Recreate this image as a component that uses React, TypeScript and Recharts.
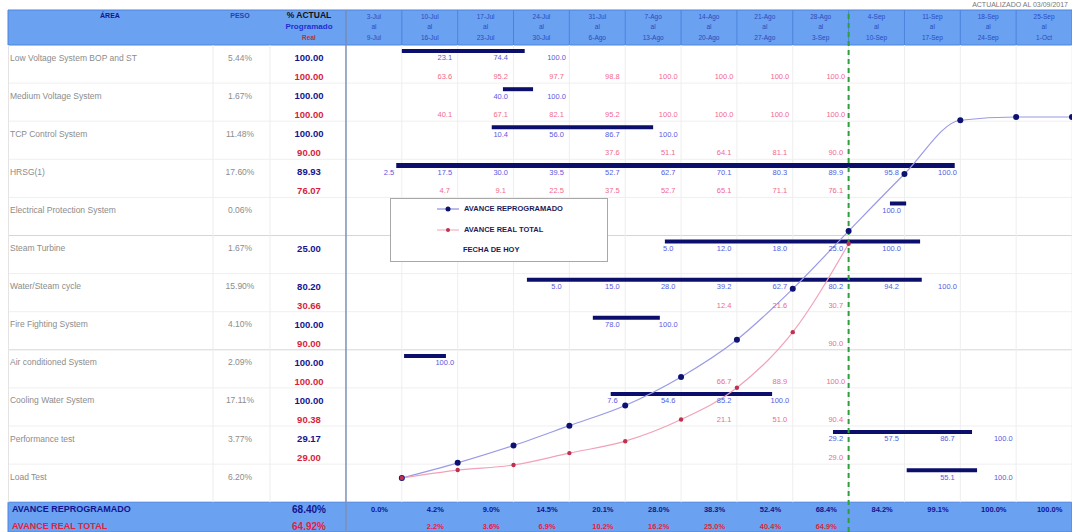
import React from 'react';
import {
  ComposedChart,
  Line,
  Scatter,
  XAxis,
  YAxis,
  ReferenceLine,
  ReferenceArea,
  Legend,
} from 'recharts';

// ---- data ----
const weekStart = ['3-Jul', '10-Jul', '17-Jul', '24-Jul', '31-Jul', '7-Ago', '14-Ago', '21-Ago', '28-Ago', '4-Sep', '11-Sep', '18-Sep', '25-Sep'];
const weekEnd = ['9-Jul', '16-Jul', '23-Jul', '30-Jul', '6-Ago', '13-Ago', '20-Ago', '27-Ago', '3-Sep', '10-Sep', '17-Sep', '24-Sep', '1-Oct'];

const areas = [
  'Low Voltage System BOP and ST',
  'Medium Voltage System',
  'TCP Control System',
  'HRSG(1)',
  'Electrical Protection System',
  'Steam Turbine',
  'Water/Steam cycle',
  'Fire Fighting System',
  'Air conditioned System',
  'Cooling Water System',
  'Performance test',
  'Load Test',
];
const peso = ['5.44%', '1.67%', '11.48%', '17.60%', '0.06%', '1.67%', '15.90%', '4.10%', '2.09%', '17.11%', '3.77%', '6.20%'];
const actualProg = ['100.00', '100.00', '100.00', '89.93', '', '25.00', '80.20', '100.00', '100.00', '100.00', '29.17', ''];
const actualReal = ['100.00', '100.00', '90.00', '76.07', '', '', '30.66', '90.00', '100.00', '90.38', '29.00', ''];

// gantt bars, in weeks from 3-Jul
const ganttStart = [1.0, 2.81, 2.61, 0.9, 9.74, 5.71, 3.24, 4.42, 1.04, 4.74, 8.72, 10.04];
const ganttEnd = [3.2, 3.35, 5.5, 10.9, 10.03, 10.28, 10.31, 5.62, 1.79, 7.63, 11.21, 11.3];

const N = null;
// programmed % per week, per area
const progCells: (number | null)[][] = [
  [N, 23.1, 74.4, 100, N, N, N, N, N, N, N, N, N],
  [N, N, 40.0, 100, N, N, N, N, N, N, N, N, N],
  [N, N, 10.4, 56.0, 86.7, 100, N, N, N, N, N, N, N],
  [2.5, 17.5, 30.0, 39.5, 52.7, 62.7, 70.1, 80.3, 89.9, 95.8, 100, N, N],
  [N, N, N, N, N, N, N, N, N, 100, N, N, N],
  [N, N, N, N, N, 5.0, 12.0, 18.0, 25.0, 100, N, N, N],
  [N, N, N, 5.0, 15.0, 28.0, 39.2, 62.7, 80.2, 94.2, 100, N, N],
  [N, N, N, N, 78.0, 100, N, N, N, N, N, N, N],
  [N, 100, N, N, N, N, N, N, N, N, N, N, N],
  [N, N, N, N, 7.6, 54.6, 85.2, 100, N, N, N, N, N],
  [N, N, N, N, N, N, N, N, 29.2, 57.5, 86.7, 100, N],
  [N, N, N, N, N, N, N, N, N, N, 55.1, 100, N],
];
// real % per week, per area
const realCells: (number | null)[][] = [
  [N, 63.6, 95.2, 97.7, 98.8, 100, 100, 100, 100, N, N, N, N],
  [N, 40.1, 67.1, 82.1, 95.2, 100, 100, 100, 100, N, N, N, N],
  [N, N, N, N, 37.6, 51.1, 64.1, 81.1, 90.0, N, N, N, N],
  [N, 4.7, 9.1, 22.5, 37.5, 52.7, 65.1, 71.1, 76.1, N, N, N, N],
  [N, N, N, N, N, N, N, N, N, N, N, N, N],
  [N, N, N, N, N, N, N, N, N, N, N, N, N],
  [N, N, N, N, N, N, 12.4, 21.6, 30.7, N, N, N, N],
  [N, N, N, N, N, N, N, N, 90.0, N, N, N, N],
  [N, N, N, N, N, N, 66.7, 88.9, 100, N, N, N, N],
  [N, N, N, N, N, N, 21.1, 51.0, 90.4, N, N, N, N],
  [N, N, N, N, N, N, N, N, 29.0, N, N, N, N],
  [N, N, N, N, N, N, N, N, N, N, N, N, N],
];

// S curves (cumulative %), at the end of each week
const reprogramado = [0, 4.2, 9.0, 14.5, 20.1, 28.0, 38.3, 52.4, 68.4, 84.2, 99.1, 100, 100];
const realTotal = [0, 2.2, 3.6, 6.9, 10.2, 16.2, 25.0, 40.4, 64.9];
const totalProg = '68.40%';
const totalReal = '64.92%';
const cutWeek = 9;

// ---- layout ----
const W = 1072;
const H = 532;
const X0 = 346;
const COL_W = 55.85;
const Y0 = 45;
const ROW_H = 38.1;
const ux = (px: number) => (px - X0) / COL_W;
const ur = (py: number) => (py - Y0) / ROW_H;
const PCT_PX = 3.61;
const pctDomain = [-(H - 478) / PCT_PX, 100 + (117 - 10) / PCT_PX];

const FONT = '"Liberation Sans", Arial, sans-serif';
const NAVY = '#12158f';
const RED = '#d81e3c';
const GRAY = '#8c8c8c';
const CELL_BLUE = '#5a5ae0';
const CELL_RED = '#f06a8c';
const HEAD = '#6ba1f1';
const HEAD_LINE = '#4c84dd';
const BAR = '#0b0f6b';

type TextItem = {
  x: number;
  r: number;
  t: string;
  fill: string;
  size: number;
  bold?: boolean;
  anchor?: 'start' | 'middle' | 'end';
};

const headerItems: TextItem[] = [
  { x: ux(110), r: ur(15), t: 'ÁREA', fill: NAVY, size: 7, bold: true },
  { x: ux(240), r: ur(15), t: 'PESO', fill: '#2a3fb0', size: 7, bold: true },
  { x: ux(309), r: ur(15), t: '% ACTUAL', fill: '#111', size: 8.5, bold: true },
  { x: ux(309), r: ur(26), t: 'Programado', fill: '#1f2fd0', size: 8, bold: true },
  { x: ux(309), r: ur(37), t: 'Real', fill: RED, size: 6.5, bold: true },
  ...weekStart.flatMap((w, k) => [
    { x: k + 0.5, r: ur(16), t: w, fill: '#2a4bbd', size: 6.5 },
    { x: k + 0.5, r: ur(26), t: 'al', fill: '#2a4bbd', size: 6.5 },
    { x: k + 0.5, r: ur(37), t: weekEnd[k], fill: '#2a4bbd', size: 6.5 },
  ]),
];

const tableItems: TextItem[] = areas.flatMap((a, i) => [
  { x: ux(10), r: i + 0.33, t: a, fill: GRAY, size: 8.5, anchor: 'start' as const },
  { x: ux(240), r: i + 0.33, t: peso[i], fill: GRAY, size: 8.5 },
  { x: ux(309), r: i + 0.33, t: actualProg[i], fill: NAVY, size: 9.5, bold: true },
  { x: ux(309), r: i + 0.83, t: actualReal[i], fill: RED, size: 9.5, bold: true },
]);

const cellItems = (cells: (number | null)[][], dr: number, fill: string): TextItem[] =>
  cells.flatMap((row, i) =>
    row.flatMap((v, c) => (v == null ? [] : [{ x: c + 0.77, r: i + dr, t: v.toFixed(1), fill, size: 7.5 }]))
  );

const footerItems: TextItem[] = [
  { x: ux(12), r: ur(509), t: 'AVANCE REPROGRAMADO', fill: NAVY, size: 9, bold: true, anchor: 'start' },
  { x: ux(12), r: ur(526), t: 'AVANCE REAL TOTAL', fill: '#e8203c', size: 9, bold: true, anchor: 'start' },
  { x: ux(309), r: ur(509), t: totalProg, fill: NAVY, size: 10, bold: true },
  { x: ux(309), r: ur(526), t: totalReal, fill: '#e8203c', size: 10, bold: true },
  ...reprogramado.map((v, k) => ({ x: k + 0.6, r: ur(509), t: `${v.toFixed(1)}%`, fill: NAVY, size: 7.5, bold: true })),
  ...realTotal.slice(1).map((v, k) => ({ x: k + 1.6, r: ur(526), t: `${v.toFixed(1)}%`, fill: '#e8203c', size: 7.5, bold: true })),
];

const allText = [
  ...headerItems,
  ...tableItems,
  ...cellItems(progCells, 0.34, CELL_BLUE),
  ...cellItems(realCells, 0.83, CELL_RED),
  ...footerItems,
].filter((d) => d.t !== '');

const reprogData = reprogramado.map((p, i) => ({ x: i + 1, p }));
const realData = realTotal.map((p, i) => ({ x: i + 1, p }));

const renderText = (props: any) => {
  const d = props.payload as TextItem;
  if (!d || props.cx == null) return <g />;
  return (
    <text
      x={props.cx}
      y={props.cy}
      textAnchor={d.anchor || 'middle'}
      dominantBaseline="central"
      fontFamily={FONT}
      fontSize={d.size}
      fontWeight={d.bold ? 700 : 400}
      fill={d.fill}
    >
      {d.t}
    </text>
  );
};

const renderLegend = () => (
  <div
    style={{
      width: 218,
      height: 64,
      boxSizing: 'border-box',
      border: '1px solid #a8a8a8',
      background: '#fff',
      position: 'relative',
      fontFamily: FONT,
      fontSize: 7.5,
      fontWeight: 700,
      color: '#1c1c5a',
    }}
  >
    <div style={{ position: 'absolute', left: 46, top: 5, display: 'flex', alignItems: 'center' }}>
      <svg width={22} height={8}>
        <line x1={0} y1={4} x2={22} y2={4} stroke="#7a7ad8" strokeWidth={1} />
        <circle cx={11} cy={4} r={2.5} fill="#0d1270" />
      </svg>
      <span style={{ marginLeft: 5 }}>AVANCE REPROGRAMADO</span>
    </div>
    <div style={{ position: 'absolute', left: 46, top: 26, display: 'flex', alignItems: 'center' }}>
      <svg width={22} height={8}>
        <line x1={0} y1={4} x2={22} y2={4} stroke="#f2a2b8" strokeWidth={1} />
        <circle cx={11} cy={4} r={2} fill="#c03050" />
      </svg>
      <span style={{ marginLeft: 5 }}>AVANCE REAL TOTAL</span>
    </div>
    <div style={{ position: 'absolute', left: 72, top: 46 }}>FECHA DE HOY</div>
  </div>
);

export default function App() {
  const rowLines = Array.from({ length: 11 }, (_, i) => i + 1);
  const colLines = Array.from({ length: 13 }, (_, k) => k + 1);
  const rTop = ur(10);
  const rBot = ur(H);
  return (
    <div style={{ position: 'absolute', left: 0, top: 0, width: W, height: H, background: '#fff', overflow: 'hidden' }}>
      <ComposedChart width={W} height={H} margin={{ top: 10, right: 0, bottom: 0, left: 8 }}>
        <XAxis type="number" dataKey="x" domain={[ux(8), 13]} allowDataOverflow hide />
        <YAxis yAxisId="row" type="number" dataKey="r" domain={[rTop, rBot]} reversed allowDataOverflow hide />
        <YAxis yAxisId="pct" type="number" domain={pctDomain} allowDataOverflow hide />

        {/* header and footer bands */}
        <ReferenceArea yAxisId="row" x1={ux(8)} x2={13} y1={rTop} y2={0} fill={HEAD} fillOpacity={1} stroke={HEAD_LINE} />
        <ReferenceArea yAxisId="row" x1={ux(8)} x2={13} y1={12} y2={rBot} fill={HEAD} fillOpacity={1} stroke={HEAD_LINE} />

        {/* grid */}
        {rowLines.map((r) => (
          <ReferenceLine
            key={`h${r}`}
            yAxisId="row"
            segment={[{ x: ux(8), y: r }, { x: 13, y: r }]}
            stroke={r === 5 || r === 8 ? '#d6d6d6' : '#efefef'}
          />
        ))}
        {colLines.map((k) => (
          <ReferenceLine key={`v${k}`} yAxisId="row" segment={[{ x: k, y: 0 }, { x: k, y: 12 }]} stroke="#eeeeee" />
        ))}
        {[ux(213), ux(270)].map((x) => (
          <ReferenceLine key={`t${x}`} yAxisId="row" segment={[{ x, y: 0 }, { x, y: 12 }]} stroke="#ececec" />
        ))}
        {weekStart.map((_, k) => (
          <ReferenceLine key={`hd${k}`} yAxisId="row" segment={[{ x: k, y: rTop }, { x: k, y: 0 }]} stroke={HEAD_LINE} />
        ))}
        <ReferenceLine yAxisId="row" segment={[{ x: 0, y: rTop }, { x: 0, y: rBot }]} stroke="#7d8fb8" strokeWidth={1.5} />
        <ReferenceLine yAxisId="row" segment={[{ x: ux(8.5), y: 0 }, { x: ux(8.5), y: 12 }]} stroke="#e4e4e4" />

        {/* gantt bars */}
        {ganttStart.map((s, i) => (
          <ReferenceLine
            key={`g${i}`}
            yAxisId="row"
            segment={[{ x: s, y: i + 0.16 }, { x: ganttEnd[i], y: i + 0.16 }]}
            stroke={BAR}
            strokeWidth={i === 3 ? 5 : 4}
          />
        ))}

        {/* cut date */}
        <ReferenceLine yAxisId="row" x={cutWeek} stroke="#2f9e3f" strokeWidth={2} strokeDasharray="5 4" />

        <Scatter yAxisId="row" data={allText} shape={renderText} isAnimationActive={false} legendType="none" />

        <Line
          yAxisId="pct"
          data={reprogData}
          dataKey="p"
          type="monotone"
          stroke="#9a9ae6"
          strokeWidth={1.2}
          dot={{ r: 3, fill: '#0d1270', stroke: '#0d1270', strokeWidth: 0 }}
          isAnimationActive={false}
          name="AVANCE REPROGRAMADO"
        />
        <Line
          yAxisId="pct"
          data={realData}
          dataKey="p"
          type="monotone"
          stroke="#f2a2b8"
          strokeWidth={1.2}
          dot={{ r: 2.2, fill: '#c03050', stroke: '#c03050', strokeWidth: 0 }}
          isAnimationActive={false}
          name="AVANCE REAL TOTAL"
        />

        <Legend
          layout="vertical"
          align="center"
          verticalAlign="middle"
          content={renderLegend}
          wrapperStyle={{ left: 390, top: 198, width: 218, height: 64 }}
        />
      </ComposedChart>
      <div style={{ position: 'absolute', right: 4, top: 0, fontFamily: FONT, fontSize: 7, lineHeight: '9px', color: '#777' }}>
        ACTUALIZADO AL 03/09/2017
      </div>
    </div>
  );
}
